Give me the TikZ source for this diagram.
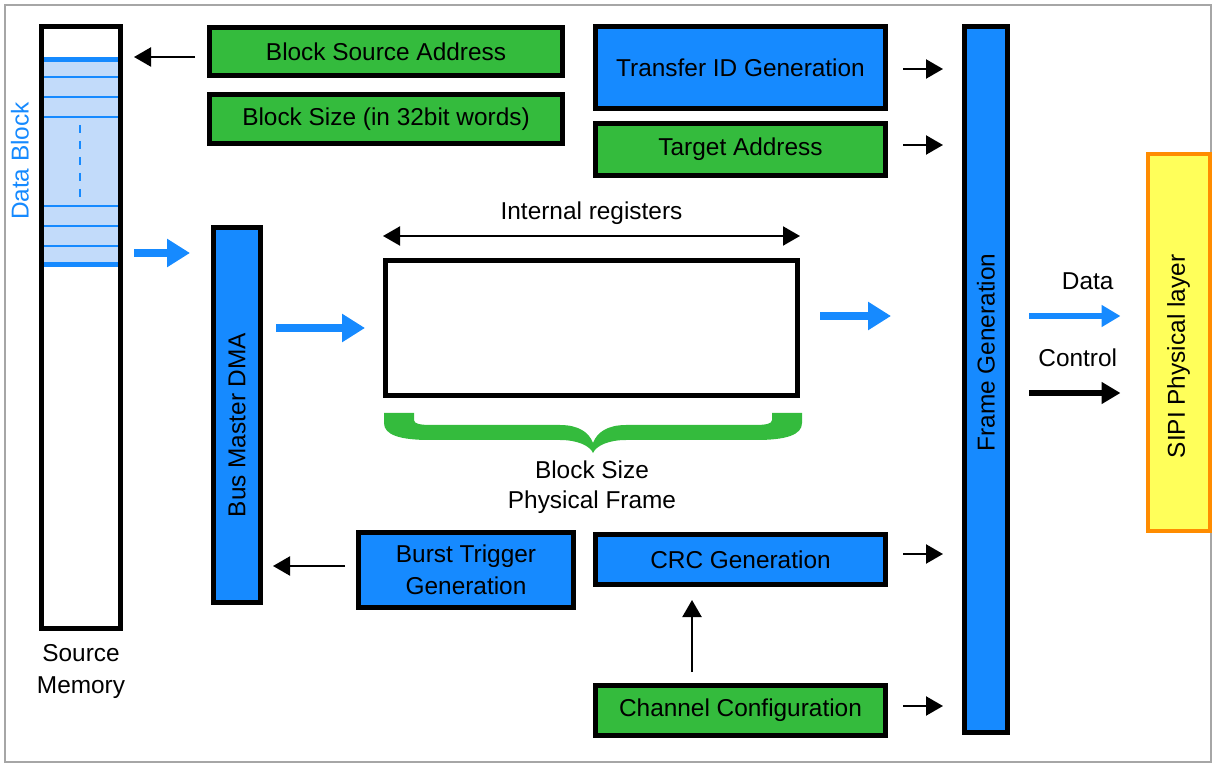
\documentclass[tikz,border=0pt]{standalone}
\usepackage{fontspec}
\setmainfont{Liberation Sans}
\usepackage{tikz}
\usetikzlibrary{positioning, arrows.meta}
\definecolor{busblue}{RGB}{22,138,255}
\definecolor{reggreen}{RGB}{52,187,61}
\definecolor{blocklight}{RGB}{194,219,250}
\definecolor{sipiyellow}{RGB}{255,255,90}
\definecolor{sipiorange}{RGB}{255,140,0}
\tikzset{>={Triangle[length=8.5pt,width=9.5pt]}}
\tikzset{
    bluebox/.style = {rectangle, draw, fill=busblue, line width=2.5pt, inner sep=0pt, align=center},
    greenbox/.style = {rectangle, draw, fill=reggreen, line width=2.5pt, inner sep=0pt, align=center},
    ctrl/.style = {->, line width=1.1pt},
    flow/.style = {-{Triangle[length=11.5pt,width=13.5pt]}, line width=4pt, draw=busblue},
    outflow/.style = {-{Triangle[length=9.5pt,width=10.5pt]}, line width=3.2pt}
}

\begin{document}
\begin{tikzpicture}[x=0.5pt,y=-0.5pt]
			\tikzstyle{every node}=[font=\fontsize{12.2}{15.5}\selectfont]
			\useasboundingbox (0,0) rectangle (1215,764);
			\draw [gray!70, line width=0.6pt] (5,5) rectangle (1211,762);
			% source memory with the data block
			\fill [blocklight] (44,58) rectangle (118,266);
			\foreach \y in {77,97,117,206,226,246}
				\draw [busblue, line width=0.6pt] (44,\y) -- (118,\y);
			\draw [busblue, line width=2.2pt] (44,59.5) -- (118,59.5) (44,264.5) -- (118,264.5);
			\draw [busblue, line width=0.6pt, dash pattern=on 4pt off 4pt] (80,125) -- (80,200);
			\node (mem) [rectangle, draw, line width=2.5pt, minimum width=39.5pt, minimum height=301pt] at (81,327.5) {};
			\node (dblk) [text=busblue] at (20,161) {\rotatebox{90}{Data Block}};
			\node (srcmem) [align=center, font=\fontsize{12.2}{16}\selectfont] at (81,672) {Source\\Memory};
			% registers
			\node (bsa) [greenbox, minimum width=176.5pt, minimum height=24pt] at (386,51.5) {Block Source Address};
			\node (bsz) [greenbox, minimum width=176.5pt, minimum height=24.5pt] at (386,119) {Block Size (in 32bit words)};
			\node (tid) [bluebox, minimum width=145pt, minimum height=41pt] at (740.5,67.5) {Transfer ID Generation};
			\node (tga) [greenbox, minimum width=145pt, minimum height=26pt] at (740.5,149.5) {Target Address};
			\node (crc) [bluebox, minimum width=145pt, minimum height=25pt] at (740.5,559.5) {CRC Generation};
			\node (chc) [greenbox, minimum width=145pt, minimum height=25pt] at (740.5,710.5) {Channel Configuration};
			\node (btg) [bluebox, minimum width=107.5pt, minimum height=37.5pt, font=\fontsize{12.2}{16}\selectfont] at (466,570) {Burst Trigger\\Generation};
			\node (dma) [bluebox, minimum width=23.5pt, minimum height=187.5pt,
				label={[yshift=-5pt]center:\rotatebox{90}{Bus Master DMA}}] at (237,415) {};
			\node (frame) [bluebox, minimum width=21.5pt, minimum height=353pt,
				label={[yshift=13.5pt]center:\rotatebox{90}{Frame Generation}}] at (986,379.5) {};
			\node (sipi) [rectangle, draw=sipiorange, fill=sipiyellow, line width=2pt, minimum width=31pt, minimum height=188pt,
				label={[yshift=-7pt]center:\rotatebox{90}{SIPI Physical layer}}] at (1178.5,342.5) {};
			\node (reg) [rectangle, draw, fill=white, line width=2.5pt, minimum width=206pt, minimum height=67.5pt] at (591.5,328) {};
			% control arrows
			\draw [ctrl, shorten <=6pt, shorten >=5.5pt] ([yshift=-2.75pt]bsa.west) to ([yshift=-2.75pt]bsa.west -| mem.east);
			\draw [ctrl, shorten <=7.5pt, shorten >=9.5pt] ([yshift=-0.75pt]tid.east) to ([yshift=-0.75pt]tid.east -| frame.west);
			\draw [ctrl, shorten <=7.5pt, shorten >=9.5pt] ([yshift=2.25pt]tga.east) to ([yshift=2.25pt]tga.east -| frame.west);
			\draw [ctrl, shorten <=7.5pt, shorten >=9.5pt] ([yshift=2.75pt]crc.east) to ([yshift=2.75pt]crc.east -| frame.west);
			\draw [ctrl, shorten <=7.5pt, shorten >=9.5pt] ([yshift=2.25pt]chc.east) to ([yshift=2.25pt]chc.east -| frame.west);
			\draw [ctrl, shorten <=5.5pt, shorten >=5pt] ([yshift=2pt]btg.west) to ([yshift=2pt]btg.west -| dma.east);
			\draw [ctrl, shorten <=5.5pt, shorten >=6.5pt] ([xshift=-24.25pt]chc.north) to ([xshift=-24.25pt]crc.south);
			% data path
			\coordinate (dmain) at ([yshift=-14pt]dma.north west);
			\draw [flow, shorten <=5.5pt, shorten >=10.5pt] (mem.east |- dmain) to (dmain);
			\draw [flow, shorten <=6.5pt, shorten >=9pt] (dma.east |- reg.west) to (reg.west);
			\draw [flow, shorten <=10pt, shorten >=35.5pt] ([yshift=6pt]reg.east) to ([yshift=6pt]reg.east -| frame.west);
			\draw [<->, line width=1pt] ([yshift=11pt]reg.north west) to node[above=2pt] {Internal registers} ([yshift=11pt]reg.north east);
			% brace under the registers
			\fill [reggreen] (384,413) -- (384,423) .. controls (384,435) and (400,440) .. (430,440) -- (560,440)
				.. controls (578,440) and (590,446) .. (593,453) .. controls (596,446) and (608,440) .. (626,440)
				-- (756,440) .. controls (786,440) and (802,435) .. (802,423) -- (802,413) -- (772,413) -- (772,420)
				.. controls (772,424) and (766,425) .. (753,425) -- (626,425) .. controls (608,425) and (597,432) .. (593,443)
				.. controls (589,432) and (578,425) .. (560,425) -- (433,425) .. controls (420,425) and (414,424) .. (414,420)
				-- (414,413) -- cycle;
			\node (bsize) [align=center, font=\fontsize{12.2}{15}\selectfont] at (592,487) {Block Size\\Physical Frame};
			% legend towards the physical layer
			\draw [outflow, draw=busblue, shorten <=9.5pt, shorten >=12.5pt] ([yshift=6pt]frame.east |- reg.east) to node[above=8pt, xshift=5pt] {Data} ([yshift=6pt]reg.east -| sipi.west);
			\draw [outflow, shorten <=9.5pt, shorten >=12.5pt] ([yshift=-32.5pt]frame.east |- reg.east) to node[above=8pt] {Control} ([yshift=-32.5pt]reg.east -| sipi.west);
		\end{tikzpicture}
\end{document}
